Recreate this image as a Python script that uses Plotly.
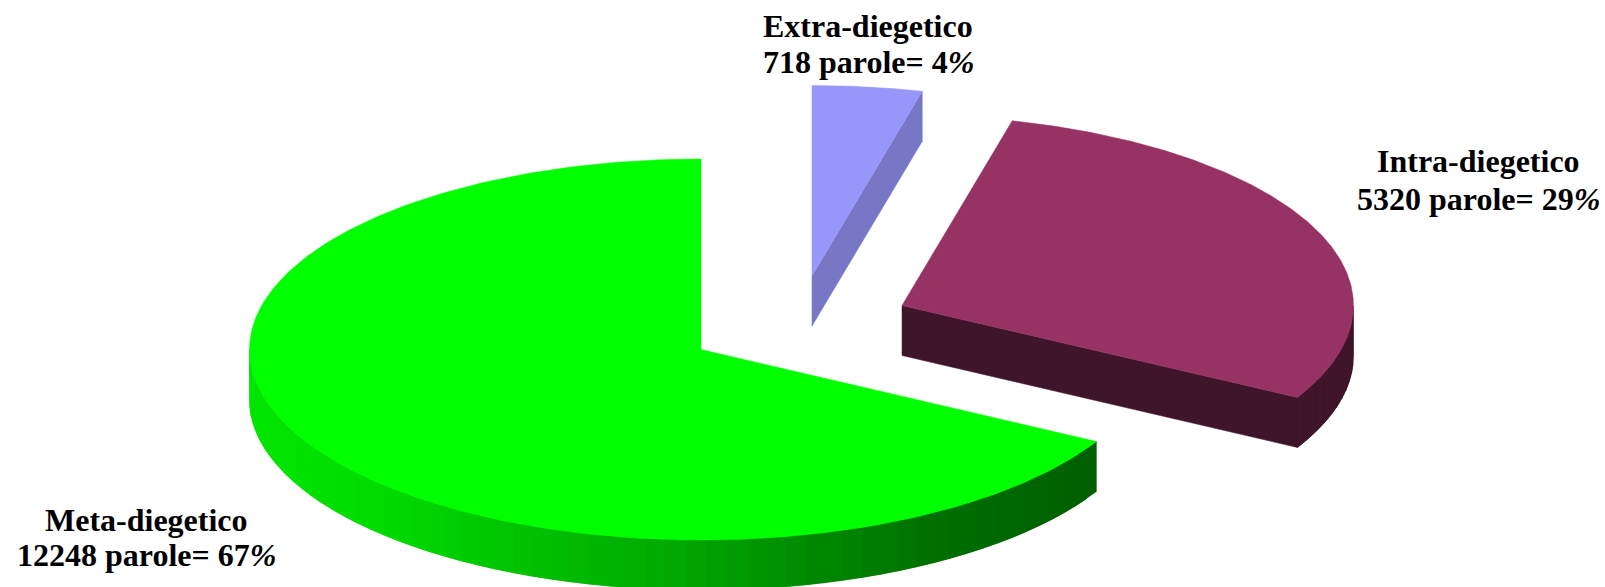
import numpy as np
import plotly.graph_objects as go

# ---- data ----
categories = ["Extra-diegetico", "Intra-diegetico", "Meta-diegetico"]
words = [718, 5320, 12248]
percents = [4, 29, 67]

# ---- styling / projection ----
W, H = 1605, 587
RX, RY, DEPTH = 451.5, 190.5, 50
centers = [(812, 276), (902, 305.5), (701, 349.5)]
top_colors = [(0x97, 0x97, 0xFA), (0x96, 0x32, 0x64), (0x00, 0xFF, 0x00)]
label_pos = [(868, 26, 62), (1478, 161, 199), (146, 520, 555)]


def rgb(c, f=1.0):
    return "rgb(%d,%d,%d)" % tuple(round(v * f) for v in c)


def pt(cx, cy, deg, dz=0.0):
    a = np.radians(deg)
    return cx + RX * np.sin(a), cy - RY * np.cos(a) + dz


def poly(fig, xs, ys, color):
    xs, ys = list(xs), list(ys)
    fig.add_trace(go.Scatter(
        x=xs + xs[:1], y=ys + ys[:1], mode="lines", fill="toself", fillcolor=color,
        line=dict(color=color, width=0.5), hoverinfo="skip", showlegend=False))


def side_factor(i, x, cx):
    if i == 0:
        return 0.79
    if i == 1:
        return 0.42
    t = (x - (cx - RX)) / (2 * RX * 0.94)
    return float(np.interp(t, [0, 0.15, 0.5, 0.8, 1], [0.90, 0.86, 0.66, 0.44, 0.37]))


fig = go.Figure()
edges = np.cumsum([0] + words) / sum(words) * 360.0

for i in range(len(words)):
    a0, a1 = edges[i], edges[i + 1]
    cx, cy = centers[i]
    color = top_colors[i]

    # radial face on the clockwise end of a slice (only visible when facing the viewer)
    if a1 < 180:
        ex, ey = pt(cx, cy, a1)
        poly(fig, [cx, ex, ex, cx], [cy, ey, ey + DEPTH, cy + DEPTH],
             rgb(color, side_factor(i, cx, cx)))

    # outer rim, front half only; each band runs over the next one to hide seams
    lo, hi = max(a0, 90), min(a1, 270)
    if hi > lo:
        steps = np.linspace(lo, hi, max(2, int((hi - lo) / 2.5) + 1))
        for s0, s1 in zip(steps[:-1], steps[1:]):
            s2 = min(hi, s1 + (s1 - s0))
            arc = np.linspace(s0, s2, 5)
            tx, ty = pt(cx, cy, arc)
            poly(fig, [*tx, *tx[::-1]], [*ty, *(ty[::-1] + DEPTH)],
                 rgb(color, side_factor(i, (tx[0] + tx[2]) / 2, cx)))

    # top face
    angles = np.linspace(a0, a1, 240)
    px, py = pt(cx, cy, angles)
    poly(fig, [cx, *px], [cy, *py], rgb(color))

for name, n, pc, (lx, y1, y2) in zip(categories, words, percents, label_pos):
    for txt, y in ((name, y1), (f"{n} parole= {pc}<i>%</i>", y2)):
        fig.add_annotation(x=lx, y=y, text=f"<b>{txt}</b>", showarrow=False,
                           xanchor="center", yanchor="middle",
                           font=dict(family="Liberation Serif", size=32, color="#000000"))

fig.update_layout(
    width=W, height=H, margin=dict(l=0, r=0, t=0, b=0),
    paper_bgcolor="#ffffff", plot_bgcolor="#ffffff", showlegend=False,
    xaxis=dict(range=[0, W], visible=False, fixedrange=True),
    yaxis=dict(range=[H, 0], visible=False, fixedrange=True),
)
fig.write_html("out.html", config={"displayModeBar": False},
               post_script="document.body.style.margin='0';")
